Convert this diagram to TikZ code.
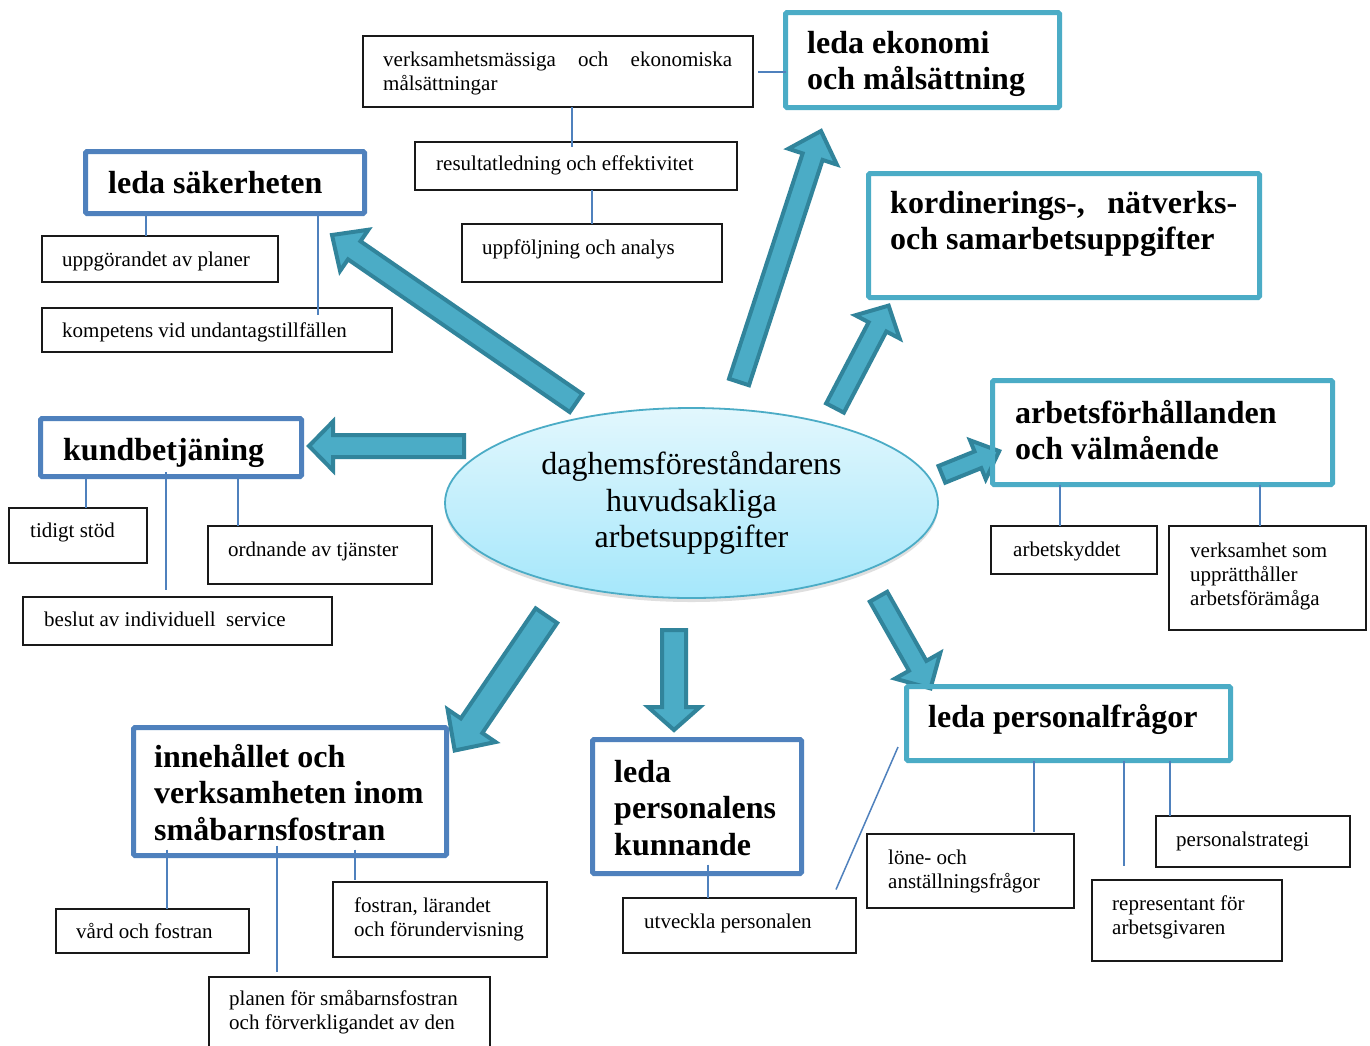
\documentclass[tikz,border=0pt]{standalone}
\usepackage{fontspec}
\setmainfont{Liberation Serif}
\usetikzlibrary{calc,shadows,shapes.geometric}
\definecolor{hblue}{HTML}{4F81BD}
\definecolor{hteal}{HTML}{4BACC6}
\definecolor{afill}{HTML}{4BACC6}
\definecolor{aline}{HTML}{31849B}
\definecolor{etop}{HTML}{E2F7FD}
\definecolor{ebot}{HTML}{A5E7FB}
\definecolor{eline}{HTML}{4BACC6}
% block arrow: tail, tip, half shaft, half head, head length
\newcommand\barrow[5]{%
  \draw[arr] ($(#1)!#3!90:(#2)$) -- ($(#2)!#5!(#1)!#3!-90:(#1)$) -- ($(#2)!#5!(#1)!#4!-90:(#1)$) -- (#2)
    -- ($(#2)!#5!(#1)!#4!90:(#1)$) -- ($(#2)!#5!(#1)!#3!90:(#1)$) -- ($(#1)!#3!-90:(#2)$) -- cycle;}
% vertical connector: from node anchor, to node anchor, x, start offset, end offset (pixels down)
\newcommand\vc[5]{\draw[conn] let \p1=(#1), \p2=(#2) in ({#3pt},{\y1-(#4)*1pt}) -- ({#3pt},{\y2-(#5)*1pt});}
\newcommand\ml[2]{\parbox[t]{#1}{\raggedright #2}}
\tikzset{
  hb/.style={draw=hblue, line width=5pt, anchor=north west, inner sep=0pt, outer sep=0pt, rounded corners=1.5pt},
  ht/.style={hb, draw=hteal},
  sb/.style={draw=black!90, line width=1.5pt, anchor=north west, inner sep=0pt, outer sep=0pt},
  tx/.style={anchor=base west, inner sep=0pt, font=\fontsize{21}{24}\selectfont},
  bt/.style={anchor=base west, inner sep=0pt, font=\bfseries\fontsize{32}{36.5}\selectfont},
  conn/.style={draw=hblue, line width=2pt},
  arr/.style={fill=afill, draw=aline, line width=4pt},
}
\begin{document}
\begin{tikzpicture}[x=1pt,y=-1pt]
\useasboundingbox[fill=white] (0,0) rectangle (1370,1045);

% centre ellipse
\node[ellipse, minimum width=493, minimum height=190, inner sep=0pt,
      top color=etop, bottom color=ebot, draw=eline, line width=1.8pt,
      drop shadow={shadow xshift=0pt, shadow yshift=-4pt, opacity=0.25},
      align=center, font=\fontsize{32}{36.5}\selectfont] (c) at (691.5,503)
      {daghemsföreståndarens\\huvudsakliga\\arbetsuppgifter};

% arrow end points
\coordinate (tA) at (576,403);   \coordinate (pA) at (332,235);
\coordinate (tB) at (464,446);   \coordinate (pB) at (309,446);
\coordinate (tC) at (739,382);   \coordinate (pC) at (821,131);
\coordinate (tD) at (835,408);   \coordinate (pD) at (888.6,305.6);
\coordinate (tE) at (941.9,474.3); \coordinate (pE) at (999.2,451.1);
\coordinate (tF) at (546.4,615.7); \coordinate (pF) at (454.7,750.5);
\coordinate (tG) at (674,630);   \coordinate (pG) at (674,730);
\coordinate (tH) at (878.5,596.7); \coordinate (pH) at (930.5,688.4);

\barrow{tA}{pA}{11pt}{25pt}{27pt}
\barrow{tB}{pB}{11pt}{24.5pt}{24pt}
\barrow{tC}{pC}{10.5pt}{25.5pt}{27pt}
\barrow{tD}{pD}{10pt}{25pt}{24pt}
\barrow{tE}{pE}{9pt}{21pt}{23pt}
\barrow{tF}{pF}{13pt}{29pt}{30pt}
\barrow{tG}{pG}{12pt}{26pt}{23pt}
\barrow{tH}{pH}{10pt}{26pt}{26pt}

% header boxes
\node[hb, minimum width=279, minimum height=62] (sak) at (85.5,151.5) {};
\node[hb, minimum width=261, minimum height=58] (kund) at (40.5,418.5) {};
\node[hb, minimum width=313, minimum height=128] (inne) at (133.5,727.5) {};
\node[hb, minimum width=209, minimum height=134] (kunn) at (592.5,739.5) {};
\node[ht, minimum width=274, minimum height=95] (ekon) at (785.5,12.5) {};
\node[ht, minimum width=391, minimum height=124] (kord) at (868.5,173.5) {};
\node[ht, minimum width=340, minimum height=104] (arbf) at (992.5,380.5) {};
\node[ht, minimum width=324, minimum height=74] (pers) at (906.5,686.5) {};

% sub boxes
\node[sb, minimum width=236, minimum height=46] (upp) at (42,236) {};
\node[sb, minimum width=350, minimum height=44] (komp) at (42,308) {};
\node[sb, minimum width=390, minimum height=71] (verk) at (363,36) {};
\node[sb, minimum width=322, minimum height=48] (res) at (415,142) {};
\node[sb, minimum width=260, minimum height=58] (uppf) at (462,224) {};
\node[sb, minimum width=166, minimum height=48] (arbs) at (991,526) {};
\node[sb, minimum width=197, minimum height=104] (vsom) at (1169,526) {};
\node[sb, minimum width=138, minimum height=55] (tid) at (9,508) {};
\node[sb, minimum width=224, minimum height=58] (ord) at (208,526) {};
\node[sb, minimum width=309, minimum height=48] (besl) at (23,597) {};
\node[sb, minimum width=193, minimum height=44] (vard) at (56,909) {};
\node[sb, minimum width=214, minimum height=75] (fost) at (333,882) {};
\node[sb, minimum width=281, minimum height=90] (plan) at (209,977) {};
\node[sb, minimum width=233, minimum height=55] (utv) at (623,898) {};
\node[sb, minimum width=207, minimum height=74] (lone) at (867,834) {};
\node[sb, minimum width=190, minimum height=81] (repr) at (1092,880) {};
\node[sb, minimum width=194, minimum height=51] (pstr) at (1156,816) {};

% connectors
\vc{sak.south}{upp.north}{146}{0}{0}
\vc{sak.south}{komp.north}{318}{0}{7}
\vc{verk.south}{res.north}{572}{0}{5}
\vc{res.south}{uppf.north}{592}{0}{0}
\draw[conn] ([xshift=5pt]verk.east) -- (verk.east -| ekon.west);
\vc{kund.south}{tid.north}{86}{0}{0}
\vc{kund.south}{besl.north}{166}{-4.5}{-7}
\vc{kund.south}{ord.north}{238}{0}{0}
\vc{arbf.south}{arbs.north}{1060}{0}{0}
\vc{arbf.south}{vsom.north}{1260}{0}{0}
\vc{inne.south}{vard.north}{167}{-6}{0}
\vc{inne.south}{plan.north}{277}{-10}{-5}
\vc{inne.south}{fost.north}{355}{-6}{-2}
\vc{kunn.south}{utv.north}{708}{-9}{0}
\vc{pers.south}{lone.north}{1034}{0}{-2}
\vc{pers.south}{repr.north}{1124}{0}{-14}
\vc{pers.south}{pstr.north}{1170}{0}{0}
\draw[conn, line width=1.5pt] ([xshift=-8.5pt,yshift=13.5pt]pers.south west) -- ([xshift=-20pt,yshift=8.5pt]utv.north east);

% texts
\node[bt] (sakT) at (108,193) {leda säkerheten};
\node[tx] (uppT) at (62,266) {uppgörandet av planer};
\node[tx] (kompT) at (62,337) {kompetens vid undantagstillfällen};
\node[tx] (verkT) at (383,66) {\ml{349pt}{\makebox[349pt][s]{verksamhetsmässiga och ekonomiska}\\målsättningar}};
\node[tx] (resT) at (436,170) {resultatledning och effektivitet};
\node[tx] (uppfT) at (482,254) {uppföljning och analys};
\node[bt] (ekonT) at (807,53) {\ml{250pt}{leda ekonomi\\och målsättning}};
\node[bt] (kordT) at (890,213) {\ml{347pt}{\makebox[347pt][s]{kordinerings-, nätverks-}\\och samarbetsuppgifter}};
\node[bt] (arbfT) at (1015,423) {\ml{320pt}{arbetsförhållanden\\och välmående}};
\node[tx] (arbsT) at (1013,556) {arbetskyddet};
\node[tx] (vsomT) at (1190,557) {\ml{170pt}{verksamhet som\\upprätthåller\\arbetsförämåga}};
\node[bt] (kundT) at (63,460) {kundbetjäning};
\node[tx] (tidT) at (30,537) {tidigt stöd};
\node[tx] (ordT) at (228,556) {ordnande av tjänster};
\node[tx] (beslT) at (44,626) {beslut av individuell\ \ service};
\node[bt] (inneT) at (154,767) {\ml{300pt}{innehållet och\\verksamheten inom\\småbarnsfostran}};
\node[tx] (vardT) at (76,938) {vård och fostran};
\node[tx] (fostT) at (354,912) {\ml{190pt}{fostran, lärandet\\och förundervisning}};
\node[tx] (planT) at (229,1005) {\ml{260pt}{planen för småbarnsfostran\\och förverkligandet av den}};
\node[bt] (kunnT) at (614,782) {\ml{190pt}{leda\\personalens\\kunnande}};
\node[tx] (utvT) at (644,928) {utveckla personalen};
\node[bt] (persT) at (928,727) {leda personalfrågor};
\node[tx] (loneT) at (888,864) {\ml{190pt}{löne- och\\anställningsfrågor}};
\node[tx] (reprT) at (1112,910) {\ml{170pt}{representant för\\arbetsgivaren}};
\node[tx] (pstrT) at (1176,846) {personalstrategi};
\end{tikzpicture}
\end{document}
